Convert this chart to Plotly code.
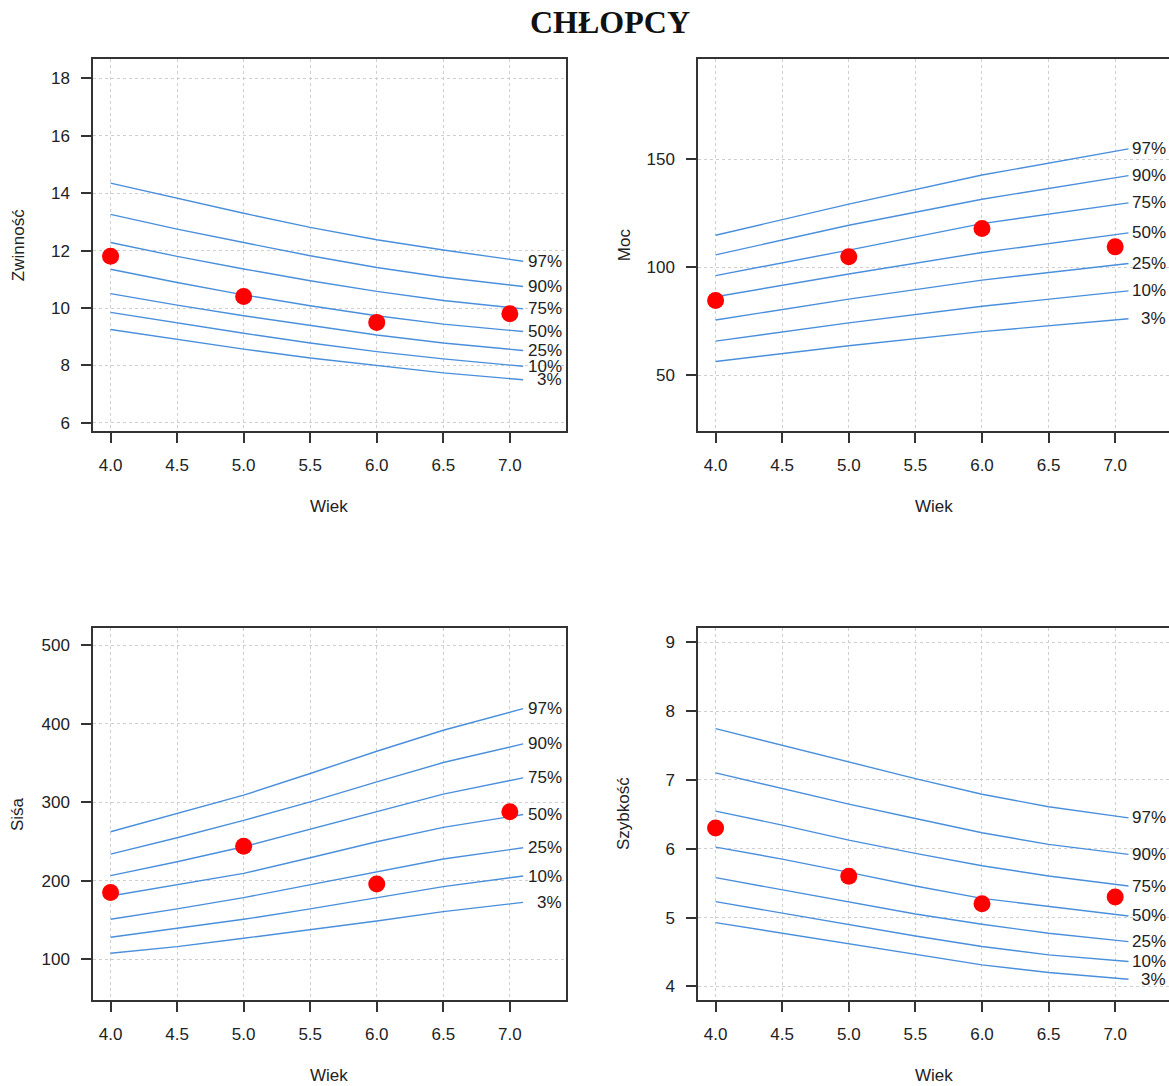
import plotly.graph_objects as go

# ---------------- data ----------------
ages_curve = [4.0, 4.5, 5.0, 5.5, 6.0, 6.5, 7.1]
ages_curve_lin = [4.0, 5.0, 6.0, 7.1]
ages_pts = [4.0, 5.0, 6.0, 7.0]
pct_labels = ["97%", "90%", "75%", "50%", "25%", "10%", "3%"]

# Zwinność
zw_curves = [
    [14.35, 13.83, 13.30, 12.81, 12.38, 12.02, 11.63],
    [13.26, 12.75, 12.28, 11.82, 11.41, 11.07, 10.75],
    [12.28, 11.80, 11.36, 10.95, 10.58, 10.26, 9.97],
    [11.35, 10.89, 10.46, 10.08, 9.73, 9.44, 9.18],
    [10.50, 10.10, 9.73, 9.39, 9.06, 8.78, 8.52],
    [9.85, 9.48, 9.12, 8.78, 8.48, 8.23, 7.97],
    [9.25, 8.90, 8.57, 8.26, 8.00, 7.74, 7.50],
]
zw_pts = [11.8, 10.4, 9.5, 9.8]

# Moc
moc_curves = [
    [114.8, 129.2, 142.7, 154.8],
    [105.7, 119.4, 131.5, 142.4],
    [96.1, 107.9, 120.2, 129.8],
    [86.3, 96.8, 106.8, 115.9],
    [75.5, 85.2, 94.0, 101.7],
    [65.7, 74.2, 81.9, 89.0],
    [56.3, 63.6, 70.1, 76.1],
]
moc_pts = [84.5, 104.8, 117.9, 109.4]

# Siśa
si_curves = [
    [262.5, 285.8, 309.1, 336.7, 365.1, 391.8, 419.4],
    [234.0, 254.8, 276.9, 300.6, 326.1, 350.7, 374.4],
    [206.5, 224.3, 243.4, 265.9, 288.8, 310.4, 331.2],
    [180.6, 194.6, 209.4, 229.4, 249.7, 268.0, 284.5],
    [150.9, 164.1, 178.5, 194.6, 211.6, 227.7, 242.1],
    [128.0, 139.4, 150.9, 164.1, 178.5, 192.5, 206.0],
    [107.6, 116.1, 126.7, 137.3, 148.8, 160.7, 172.5],
]
si_pts = [185.0, 244.0, 196.0, 288.0]

# Szybkość
sz_curves = [
    [7.744, 7.502, 7.251, 7.019, 6.792, 6.609, 6.449],
    [7.101, 6.874, 6.647, 6.440, 6.232, 6.063, 5.918],
    [6.546, 6.343, 6.126, 5.932, 5.754, 5.604, 5.459],
    [6.024, 5.850, 5.657, 5.459, 5.280, 5.159, 5.024],
    [5.580, 5.401, 5.222, 5.053, 4.903, 4.773, 4.652],
    [5.232, 5.063, 4.894, 4.734, 4.580, 4.459, 4.362],
    [4.928, 4.773, 4.614, 4.459, 4.314, 4.203, 4.106],
]
sz_pts = [6.3, 5.6, 5.2, 5.3]

panels = [
    dict(name="Zwinność", xs=ages_curve, curves=zw_curves, pts=zw_pts,
         yrange=[5.72, 18.66], dtick=2, col=0, row=0),
    dict(name="Moc", xs=ages_curve_lin, curves=moc_curves, pts=moc_pts,
         yrange=[24.1, 196.3], dtick=50, col=1, row=0),
    dict(name="Siśa", xs=ages_curve, curves=si_curves, pts=si_pts,
         yrange=[48.2, 522.0], dtick=100, col=0, row=1),
    dict(name="Szybkość", xs=ages_curve, curves=sz_curves, pts=sz_pts,
         yrange=[3.806, 9.203], dtick=1, col=1, row=1),
]

# ---------------- layout geometry ----------------
W, H = 1169, 1086
xdom = [[93 / W, 565.6 / W], [698 / W, 1.0]]
xrng = [[3.868, 7.419], [3.868, 7.404]]
ydom = [[1 - 431.7 / H, 1 - 59.5 / H], [1 - 1001.7 / H, 1 - 629.3 / H]]

LINE = "#4a8fdc"
AX = "#333333"
TXT = "#222222"
FONT = "Liberation Sans, Arial, sans-serif"
FS = 17

fig = go.Figure()
annotations = []

for i, p in enumerate(panels):
    n = i + 1
    xa = "x" if n == 1 else f"x{n}"
    ya = "y" if n == 1 else f"y{n}"
    for c in p["curves"]:
        fig.add_trace(go.Scatter(x=p["xs"], y=c, mode="lines",
                                 line=dict(color=LINE, width=1.4),
                                 xaxis=xa, yaxis=ya, showlegend=False,
                                 hoverinfo="skip"))
    fig.add_trace(go.Scatter(x=ages_pts, y=p["pts"], mode="markers",
                             marker=dict(color="#ff0000", size=17),
                             xaxis=xa, yaxis=ya, showlegend=False))
    col, row = p["col"], p["row"]
    lab_x = 7.41 if col == 0 else 7.40
    for lab, c in zip(pct_labels, p["curves"]):
        annotations.append(dict(x=lab_x, y=c[-1], xref=xa, yref=ya, text=lab,
                                showarrow=False, xanchor="right", yanchor="middle",
                                font=dict(family=FONT, size=FS, color=TXT)))
    # axis titles
    xd, yd = xdom[col], ydom[row]
    annotations.append(dict(x=(329.3 if col == 0 else 934) / W,
                            y=1 - (507 if row == 0 else 1077) / H,
                            xref="paper", yref="paper", text="Wiek", showarrow=False,
                            xanchor="center", yanchor="middle",
                            font=dict(family=FONT, size=FS, color=TXT)))
    annotations.append(dict(x=(18 if col == 0 else 624) / W,
                            y=(yd[0] + yd[1]) / 2,
                            xref="paper", yref="paper", text=p["name"], showarrow=False,
                            textangle=-90, xanchor="center", yanchor="middle",
                            font=dict(family=FONT, size=FS, color=TXT)))

    common = dict(showline=True, linecolor=AX, linewidth=1.5,
                  ticks="outside", ticklen=10, tickwidth=1.5, tickcolor=AX,
                  showgrid=True, gridcolor="#cfcfcf", griddash="dot", gridwidth=1,
                  zeroline=False,
                  tickfont=dict(family=FONT, size=FS, color=TXT))
    fig.layout[("xaxis" if n == 1 else f"xaxis{n}")] = dict(
        domain=xdom[col], range=xrng[col], anchor=ya,
        tick0=4, dtick=0.5, tickformat=".1f", mirror=True,
        ticklabelstandoff=8, **common)
    fig.layout[("yaxis" if n == 1 else f"yaxis{n}")] = dict(
        domain=ydom[row], range=p["yrange"], anchor=xa,
        dtick=p["dtick"], mirror=(col == 0),
        ticklabelstandoff=8, **common)

annotations.append(dict(x=610 / W, y=1 - 22 / H, xref="paper", yref="paper",
                        text="<b>CHŁOPCY</b>", showarrow=False,
                        xanchor="center", yanchor="middle",
                        font=dict(family="Liberation Serif, DejaVu Serif, serif",
                                  size=32, color="#111111")))

fig.update_layout(width=W, height=H, margin=dict(l=0, r=0, t=0, b=0),
                  paper_bgcolor="white", plot_bgcolor="white",
                  annotations=annotations, showlegend=False)

fig.write_html("out.html")
